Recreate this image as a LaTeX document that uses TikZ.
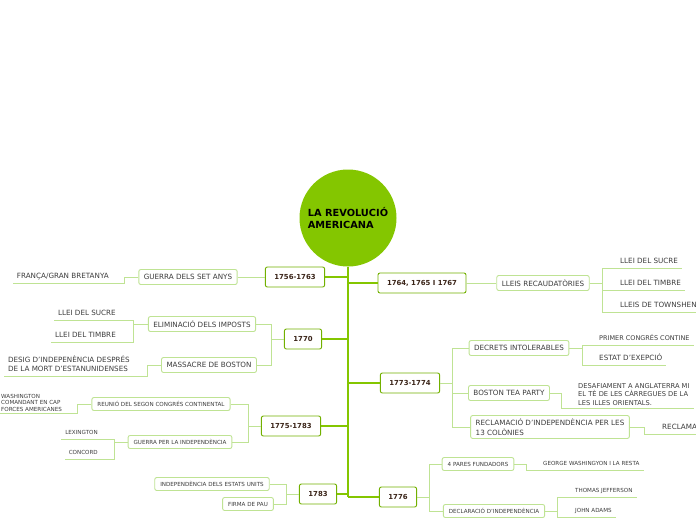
\documentclass[tikz,border=0pt]{standalone}
\usepackage{fontspec}
\setmainfont{DejaVu Sans}
\usepackage{xcolor}
\usepackage{tikz}
\definecolor{trunkgreen}{HTML}{84C600}
\definecolor{boxgreen}{HTML}{72B000}
\definecolor{lightgreen}{HTML}{BFE394}
\definecolor{maintext}{HTML}{3A2418}
\definecolor{subtext}{HTML}{3C3C3C}

\begin{document}
\begin{tikzpicture}[
  x=1pt, y=-1pt,
  mainb/.style={draw=boxgreen, line width=0.9pt, rounded corners=2pt, fill=white, minimum height=20pt, inner xsep=9pt, text=maintext, font=\bfseries\fontsize{6.9}{8}\selectfont},
  subb/.style={draw=lightgreen, line width=0.9pt, rounded corners=2pt, fill=white, minimum height=15pt, inner xsep=5pt, text=subtext, font=\fontsize{7.2}{9.5}\selectfont},
  subs/.style={subb, minimum height=13pt, inner xsep=5.5pt, font=\fontsize{5.6}{6.5}\selectfont},
  leafl/.style={anchor=south east, inner xsep=4pt, inner ysep=4pt, text depth=0pt, align=left, text=subtext, font=\fontsize{7.2}{9}\selectfont},
  leafr/.style={leafl, anchor=south west},
  small/.style={font=\fontsize{5.6}{6.6}\selectfont},
  ln/.style={draw=lightgreen, line width=1pt},
  trunk/.style={draw=trunkgreen, line width=1.3pt},
]
\useasboundingbox (0,0) rectangle (696,520);
\clip (0,0) rectangle (696,520);

\node[circle, fill=trunkgreen, minimum size=97pt, align=left, font=\bfseries\fontsize{9.8}{12}\selectfont] (root) at (348,218) {LA REVOLUCIÓ\\AMERICANA};

\node[mainb] (y56) at (295,277) {1756-1763};
\node[mainb] (y64) at (422,283) {1764, 1765 I 1767};
\node[mainb] (y70) at (303,339) {1770};
\node[mainb] (y73) at (410,383) {1773-1774};
\node[mainb] (y75) at (291,426) {1775-1783};
\node[mainb] (y83) at (318,494) {1783};
\node[mainb] (y76) at (398,497) {1776};

\node[subb] (gsa) at (188,277) {GUERRA DELS SET ANYS};
\node[subb] (rec) at (543,283) {LLEIS RECAUDATÒRIES};
\node[subb] (elim) at (202,324) {ELIMINACIÓ DELS IMPOSTS};
\node[subb] (mass) at (209,365) {MASSACRE DE BOSTON};
\node[subb] (dec) at (519,348) {DECRETS INTOLERABLES};
\node[subb] (tea) at (509,393) {BOSTON TEA PARTY};
\node[subb, align=left] (recl) at (550,427) {RECLAMACIÓ D'INDEPENDÈNCIA PER LES\\13 COLÒNIES};
\node[subs] (reu) at (161,404) {REUNIÓ DEL SEGON CONGRÉS CONTINENTAL};
\node[subs] (gpi) at (180,442) {GUERRA PER LA INDEPENDÈNCIA};
\node[subs] (ind) at (212,484) {INDEPENDÈNCIA DELS ESTATS UNITS};
\node[subs] (pau) at (248,504) {FIRMA DE PAU};
\node[subs] (pf) at (478,464) {4 PARES FUNDADORS};
\node[subs] (decl) at (494,511) {DECLARACIÓ D'INDEPENDÈNCIA};

% leaves
\node[leafl] (fr) at (113,283) {FRANÇA/GRAN BRETANYA};
\node[leafl] (ls1) at (120,320) {LLEI DEL SUCRE};
\node[leafl] (lt1) at (120,342) {LLEI DEL TIMBRE};
\node[leafl] (des) at (134,376) {DESIG D'INDEPENÈNCIA DESPRÉS\\DE LA MORT D'ESTANUNIDENSES};
\node[leafr, small, inner ysep=1.5pt, inner xsep=1pt] (was) at (0,413) {WASHINGTON\\COMANDANT EN CAP\\FORCES AMERICANES};
\node[leafl, small] (lex) at (102,439) {LEXINGTON};
\node[leafl, small] (con) at (102,459) {CONCORD};
\node[leafr] (ls2) at (616,268) {LLEI DEL SUCRE};
\node[leafr] (lt2) at (616,290) {LLEI DEL TIMBRE};
\node[leafr] (ltw) at (616,312) {LLEIS DE TOWNSHEN};
\node[leafr, font=\fontsize{6.5}{9}\selectfont] (pc) at (595,345) {PRIMER CONGRÉS CONTINE};
\node[leafr] (ee) at (595,365) {ESTAT D'EXEPCIÓ};
\node[leafr, inner ysep=2.5pt, font=\fontsize{6.7}{8.5}\selectfont] (da) at (574,408) {DESAFIAMENT A ANGLATERRA MI\\EL TÈ DE LES CÀRREGUES DE LA\\LES ILLES ORIENTALS.};
\node[leafr] (rc) at (658,434) {RECLAMA};
\node[leafr, small] (gw) at (539,470) {GEORGE WASHINGYON I LA RESTA};
\node[leafr, small] (tj) at (571,497) {THOMAS JEFFERSON};
\node[leafr, small] (ja) at (571,517) {JOHN ADAMS};

% trunk
\draw[trunk] (root.south) -- (root.south |- y76.west);
\foreach \m in {y56,y70,y75,y83} \draw[trunk] (\m.east) -- (\m.east -| root.south);
\foreach \m in {y64,y73,y76} \draw[trunk] (\m.west) -- (\m.west -| root.south);

% branches
\draw[ln] (gsa.east) -- (y56.west);
\draw[ln] (gsa.west) -- ++(-14,0) |- (fr.south west);
\draw[ln] (y64.east) -- (rec.west);
\foreach \l in {ls2,lt2,ltw} \draw[ln] (rec.east) -- ++(13,0) |- (\l.south east);
\foreach \s in {elim,mass} \draw[ln] (y70.west) -- ++(-12,0) |- (\s.east);
\foreach \l in {ls1,lt1} \draw[ln] (elim.west) -- ++(-14,0) |- (\l.south west);
\draw[ln] (mass.west) -- ++(-14,0) |- (des.south west);
\foreach \s in {dec,tea,recl} \draw[ln] (y73.east) -- ++(12,0) |- (\s.west);
\foreach \l in {pc,ee} \draw[ln] (dec.east) -- ++(13,0) |- (\l.south east);
\draw[ln] (tea.east) -- ++(12,0) |- (da.south east);
\draw[ln] (recl.east) -- ++(15,0) |- (rc.south east);
\foreach \s in {reu,gpi} \draw[ln] (y75.west) -- ++(-12,0) |- (\s.east);
\draw[ln] (reu.west) -- ++(-14,0) |- (was.south west);
\foreach \l in {lex,con} \draw[ln] (gpi.west) -- ++(-13,0) |- (\l.south west);
\foreach \s in {ind,pau} \draw[ln] (y83.west) -- ++(-12,0) |- (\s.east);
\foreach \s in {pf,decl} \draw[ln] (y76.east) -- ++(12,0) |- (\s.west);
\draw[ln] (pf.east) -- ++(12,0) |- (gw.south east);
\foreach \l in {tj,ja} \draw[ln] (decl.east) -- ++(12,0) |- (\l.south east);
\end{tikzpicture}
\end{document}
